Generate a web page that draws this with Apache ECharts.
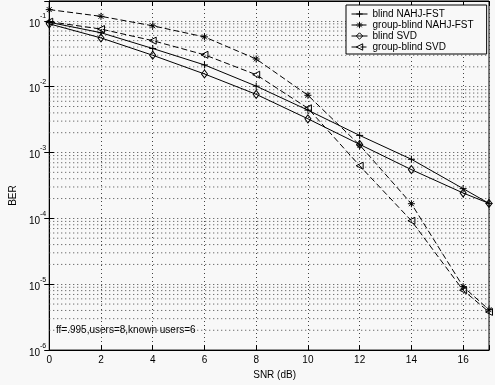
<!DOCTYPE html>
<html><head><meta charset="utf-8">
<script src="https://cdn.jsdelivr.net/npm/echarts@6/dist/echarts.min.js"></script>
<style>html,body{margin:0;padding:0;background:#f8f8f8}#c{width:495px;height:385px}</style>
</head><body><div id="c"></div>
<script>
// SNR in dB
const snr = [0, 2, 4, 6, 8, 10, 12, 14, 16, 17];
// BER values
const blindNAHJ = [0.095, 0.066, 0.038, 0.0214, 0.0102, 0.0044, 0.00182, 0.00079, 0.000283, 0.000169];
const groupNAHJ = [0.148, 0.117, 0.084, 0.057, 0.0263, 0.0074, 0.0013, 0.000167, 9.2e-6, 4.1e-6];
const blindSVD  = [0.090, 0.055, 0.030, 0.0156, 0.00765, 0.00325, 0.00133, 0.00055, 0.000243, 0.000169];
const groupSVD  = [0.097, 0.075, 0.050, 0.0305, 0.0152, 0.0047, 0.00063, 0.000092, 8.1e-6, 3.8e-6];
const seriesNames = ['blind NAHJ-FST', 'group-blind NAHJ-FST', 'blind SVD', 'group-blind SVD'];
const xTicks = [0, 2, 4, 6, 8, 10, 12, 14, 16];
const yMin = 1e-6, yMax = 0.2;
const minorMultipliers = [2, 3, 4, 5, 6, 7, 8, 9];
const decades = [-6, -5, -4, -3, -2];
const note = 'ff=.995,users=8,known users=6';

const FONT = 'Liberation Sans, Arial, Helvetica, sans-serif';
const minorVals = [];
decades.forEach(d => minorMultipliers.forEach(m => minorVals.push(m * Math.pow(10, d))));

const PLUS = 'path://M0,5L10,5M5,0L5,10';
const STAR = 'path://M0,5L10,5M5,0L5,10M1.5,1.5L8.5,8.5M8.5,1.5L1.5,8.5';
const TRI = 'path://M0,5L10,0L10,10Z';
const gridLine = {color: '#444', width: 1, type: [1, 3]};

function mk(name, vals, symbol, size, dashed) {
  return {
    name, type: 'line', data: snr.map((x, i) => [x, vals[i]]),
    symbol, symbolSize: size, showSymbol: true,
    lineStyle: {color: '#000', width: 1, type: dashed ? [6, 3] : 'solid'},
    itemStyle: {color: 'rgba(0,0,0,0)', borderColor: '#000', borderWidth: 1},
    emphasis: {disabled: true}, z: 3, animation: false
  };
}

const chart = echarts.init(document.getElementById('c'), null, {renderer: 'canvas'});
chart.setOption({
  backgroundColor: '#f8f8f8',
  animation: false,
  textStyle: {fontFamily: FONT},
  grid: {left: 36, right: 6, top: 1, bottom: 28, show: true, borderColor: '#000', borderWidth: 1},
  legend: {
    data: seriesNames, orient: 'vertical', left: 346, top: 5,
    itemWidth: 16, itemHeight: 8, itemGap: 1,
    padding: [4, 13, 2, 5],
    backgroundColor: '#f8f8f8', borderColor: '#000', borderWidth: 1,
    itemStyle: {color: 'rgba(0,0,0,0)', borderColor: '#000', borderWidth: 1},
    lineStyle: {color: '#000', width: 1},
    textStyle: {color: '#000', fontSize: 10, fontFamily: FONT}
  },
  xAxis: [{
    type: 'value', min: 0, max: 17, interval: 2,
    axisLine: {show: true, lineStyle: {color: '#000'}},
    axisTick: {show: true, inside: true, length: 5, lineStyle: {color: '#000'}},
    axisLabel: {color: '#000', fontSize: 10, fontFamily: FONT, margin: 5,
      formatter: v => xTicks.indexOf(v) >= 0 ? String(v) : ''},
    splitLine: {show: true, lineStyle: gridLine},
    name: 'SNR (dB)', nameLocation: 'middle', nameGap: 15,
    nameTextStyle: {color: '#000', fontSize: 10, fontFamily: FONT, padding: [0, 0, 0, 11]}
  }, {
    type: 'value', position: 'top', min: 0, max: 17, interval: 2,
    axisLine: {show: true, lineStyle: {color: '#000'}},
    axisTick: {show: true, inside: true, length: 5, lineStyle: {color: '#000'}},
    axisLabel: {show: false}, splitLine: {show: false}
  }],
  yAxis: [{
    type: 'log', logBase: 10, min: yMin, max: yMax,
    axisLine: {show: true, lineStyle: {color: '#000'}},
    axisTick: {show: true, inside: true, length: 5, lineStyle: {color: '#000'}},
    axisLabel: {color: '#000', margin: 3, fontFamily: FONT,
      formatter: v => {
        const l = Math.log10(v), n = Math.round(l);
        if (Math.abs(l - n) > 1e-6) return '';
        return '{b|10}{s|' + n + '}';
      },
      rich: {
        b: {fontSize: 10, color: '#000', fontFamily: FONT, verticalAlign: 'bottom', lineHeight: 16},
        s: {fontSize: 7, color: '#000', fontFamily: FONT, verticalAlign: 'top', lineHeight: 16}
      }
    },
    splitLine: {show: true, lineStyle: gridLine},
    name: 'BER', nameLocation: 'middle', nameGap: 24,
    nameTextStyle: {color: '#000', fontSize: 10, fontFamily: FONT, padding: [0, 40, 0, 0]}
  }, {
    type: 'log', logBase: 10, min: yMin, max: yMax, position: 'right',
    axisLine: {show: true, lineStyle: {color: '#000'}},
    axisTick: {show: true, inside: true, length: 5, lineStyle: {color: '#000'}},
    axisLabel: {show: false}, splitLine: {show: false}
  }],
  graphic: [{
    type: 'text', left: 56, top: 325,
    style: {text: note, fill: '#000', font: '10px ' + FONT}
  }],
  series: [
    {
      name: 'minor-grid', type: 'custom', silent: true, z: 1,
      data: minorVals.map(v => [v]),
      encode: {y: 0},
      renderItem: (params, api) => {
        const v = api.value(0);
        const p0 = api.coord([0, v]);
        const p1 = api.coord([17, v]);
        return {
          type: 'line', silent: true,
          shape: {x1: p0[0], y1: p0[1], x2: p1[0], y2: p1[1]},
          style: {stroke: '#444', lineWidth: 1, lineDash: [1, 3]}
        };
      }
    },
    mk(seriesNames[0], blindNAHJ, PLUS, 7, false),
    mk(seriesNames[1], groupNAHJ, STAR, 7, true),
    mk(seriesNames[2], blindSVD, 'diamond', [6, 8], false),
    mk(seriesNames[3], groupSVD, TRI, 7, true)
  ]
});
</script>
</body></html>
